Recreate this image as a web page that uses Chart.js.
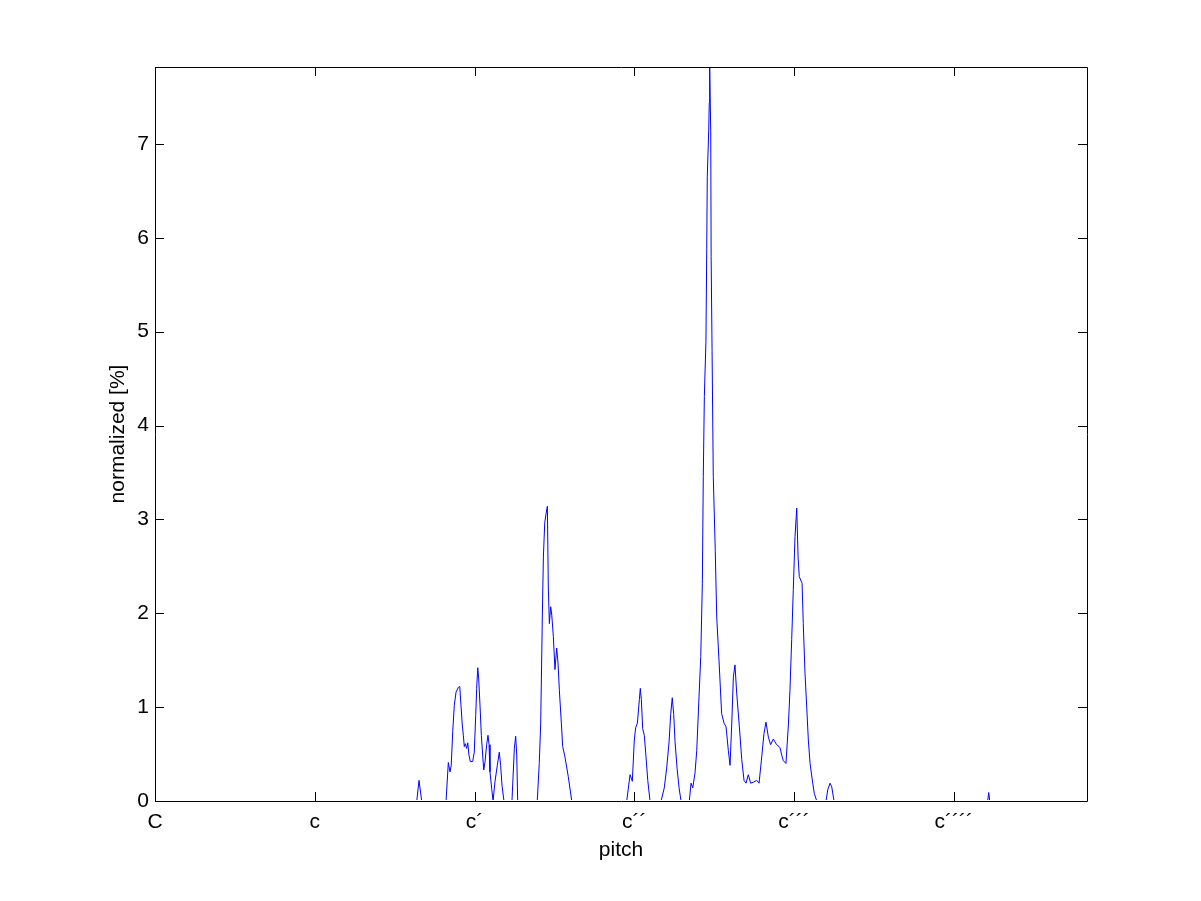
<!DOCTYPE html>
<html>
<head>
<meta charset="utf-8">
<script src="https://cdn.jsdelivr.net/npm/chart.js@4.4.1/dist/chart.umd.min.js"></script>
<style>
  body { margin: 0; background: #fff; }
  #wrap { width: 1201px; height: 901px; }
</style>
</head>
<body>
<div id="wrap"><canvas id="mycanvas" width="1201" height="901"></canvas></div>
<script>
// pitch in semitones above C, share in percent
var pitch = [0, 19.66, 19.83, 20.03, 21.86, 22.03, 22.16, 22.25, 22.36, 22.48, 22.61, 22.78, 22.89, 22.98,
  23.08, 23.16, 23.23, 23.31, 23.41, 23.49, 23.58, 23.68, 23.86, 23.98, 24.09, 24.16, 24.24, 24.31,
  24.41, 24.51, 24.61, 24.69, 24.79, 24.91, 25.01, 25.09, 25.16, 25.29, 25.39, 25.54, 25.71, 25.86,
  25.96, 26.06, 26.21, 26.81, 26.99, 27.09, 27.17, 27.24, 28.71, 28.86, 28.97, 29.09, 29.17, 29.27,
  29.37, 29.47, 29.54, 29.62, 29.72, 29.80, 29.92, 30.04, 30.17, 30.27, 30.37, 30.52, 30.62, 30.79,
  31.04, 31.30, 35.43, 35.68, 35.85, 36.00, 36.10, 36.23, 36.38, 36.45, 36.53, 36.63, 36.75, 36.88,
  37.01, 37.18, 38.01, 38.25, 38.43, 38.61, 38.73, 38.85, 38.96, 39.06, 39.21, 39.36, 39.51, 40.13,
  40.26, 40.39, 40.56, 40.69, 40.86, 40.99, 41.11, 41.18, 41.26, 41.38, 41.44, 41.48, 41.59, 41.63,
  41.66, 41.74, 41.77, 41.84, 41.93, 42.08, 42.19, 42.36, 42.56, 42.74, 42.89, 43.06, 43.19, 43.32,
  43.44, 43.56, 43.69, 43.89, 44.07, 44.24, 44.39, 44.56, 44.74, 44.94, 45.19, 45.37, 45.57, 45.74,
  45.89, 46.07, 46.24, 46.44, 46.69, 46.94, 47.07, 47.19, 47.39, 47.58, 47.69, 47.82, 47.94, 48.07,
  48.20, 48.30, 48.39, 48.60, 48.69, 48.82, 48.95, 49.07, 49.20, 49.40, 49.52, 49.70, 50.40, 50.53,
  50.70, 50.83, 51.00, 62.54, 62.62, 62.69, 70];
var share = [0, 0, 0.22, 0, 0, 0.41, 0.31, 0.38, 0.74, 1.02, 1.16, 1.21, 1.22, 1.02,
  0.81, 0.70, 0.58, 0.61, 0.56, 0.62, 0.49, 0.42, 0.42, 0.52, 0.92, 1.20, 1.42, 1.31,
  1.02, 0.70, 0.49, 0.33, 0.42, 0.60, 0.70, 0.60, 0.31, 0.13, 0, 0.21, 0.38, 0.52,
  0.38, 0.17, 0, 0, 0.56, 0.69, 0.49, 0, 0, 0.40, 0.83, 1.96, 2.60, 2.96,
  3.06, 3.14, 2.28, 1.89, 2.07, 1.98, 1.75, 1.40, 1.63, 1.47, 1.18, 0.83, 0.58, 0.47,
  0.26, 0, 0, 0.28, 0.21, 0.65, 0.78, 0.83, 1.08, 1.20, 1.08, 0.77, 0.70, 0.47,
  0.22, 0, 0, 0.14, 0.35, 0.63, 0.92, 1.10, 0.92, 0.63, 0.35, 0.14, 0, 0,
  0.19, 0.14, 0.30, 0.54, 1.11, 1.54, 2.32, 3.46, 4.31, 4.90, 5.89, 6.65, 7.15, 7.44,
  7.82, 7.13, 5.80, 4.80, 3.46, 2.67, 1.96, 1.50, 0.93, 0.83, 0.79, 0.54, 0.38, 0.83,
  1.32, 1.45, 1.15, 0.79, 0.44, 0.22, 0.19, 0.28, 0.19, 0.20, 0.22, 0.19, 0.47, 0.72,
  0.84, 0.68, 0.60, 0.66, 0.60, 0.57, 0.49, 0.43, 0.40, 0.83, 1.18, 1.72, 2.25, 2.82,
  3.12, 2.60, 2.39, 2.32, 1.89, 1.36, 1.00, 0.65, 0.40, 0.19, 0.08, 0, 0, 0.12,
  0.19, 0.15, 0, 0, 0.09, 0, 0];

var xTicks = [0, 12, 24, 36, 48, 60];
var xTickLabels = ['C', 'c', 'c\u00b4', 'c\u00b4\u00b4', 'c\u00b4\u00b4\u00b4', 'c\u00b4\u00b4\u00b4\u00b4'];
var yTicks = [0, 1, 2, 3, 4, 5, 6, 7];

var points = [];
for (var i in pitch) {
  points.push({x: pitch[i], y: share[i]});
}

var font = {family: '"Liberation Sans", Arial, sans-serif', size: 21};

// matlab style box with inward ticks on all four sides
var boxTicks = {
  id: 'boxTicks',
  afterDatasetsDraw: function(chart) {
    var ctx = chart.ctx, a = chart.chartArea;
    var sx = chart.scales.x, sy = chart.scales.y;
    var len = 9;
    ctx.save();
    ctx.strokeStyle = '#000';
    ctx.lineWidth = 1;
    ctx.beginPath();
    ctx.rect(a.left + 0.5, a.top + 0.5, a.right - a.left, a.bottom - a.top);
    xTicks.forEach(function(v) {
      var px = Math.round(sx.getPixelForValue(v)) + 0.5;
      ctx.moveTo(px, a.bottom); ctx.lineTo(px, a.bottom - len);
      ctx.moveTo(px, a.top); ctx.lineTo(px, a.top + len);
    });
    yTicks.forEach(function(v) {
      var py = Math.round(sy.getPixelForValue(v)) + 0.5;
      ctx.moveTo(a.left, py); ctx.lineTo(a.left + len, py);
      ctx.moveTo(a.right, py); ctx.lineTo(a.right - len, py);
    });
    ctx.stroke();
    ctx.restore();
  }
};

var ctx = document.getElementById('mycanvas');
var chart = new Chart(ctx, {
  type: 'line',
  data: {
    datasets: [{
      label: 'pitch histogram',
      data: points,
      borderColor: '#0000ff',
      borderWidth: 1,
      pointRadius: 0,
      tension: 0,
      fill: false,
      clip: {left: 0, top: 0, right: 0, bottom: -1}
    }]
  },
  options: {
    responsive: false,
    animation: false,
    events: [],
    layout: {padding: {top: 67, right: 114, left: 0, bottom: 0}},
    plugins: {legend: {display: false}, tooltip: {enabled: false}},
    scales: {
      x: {
        type: 'linear',
        min: 0,
        max: 70,
        grid: {display: false, drawTicks: false},
        border: {display: false},
        afterBuildTicks: function(scale) {
          scale.ticks = xTicks.map(function(v) { return {value: v}; });
        },
        afterFit: function(scale) { scale.height = 100; },
        ticks: {
          color: '#000',
          font: font,
          padding: 9,
          maxRotation: 0,
          autoSkip: false,
          callback: function(v) { return xTickLabels[xTicks.indexOf(v)]; }
        },
        title: {display: true, text: 'pitch', color: '#000', font: font, padding: {top: 0, bottom: 38}}
      },
      y: {
        type: 'linear',
        min: 0,
        max: 7.82,
        grid: {display: false, drawTicks: false},
        border: {display: false},
        afterBuildTicks: function(scale) {
          scale.ticks = yTicks.map(function(v) { return {value: v}; });
        },
        afterFit: function(scale) { scale.width = 155; },
        ticks: {color: '#000', font: font, padding: 6},
        title: {display: true, text: 'normalized [%]', color: '#000', font: font, padding: {top: 106, bottom: 0}}
      }
    }
  },
  plugins: [boxTicks]
});
</script>
</body>
</html>
